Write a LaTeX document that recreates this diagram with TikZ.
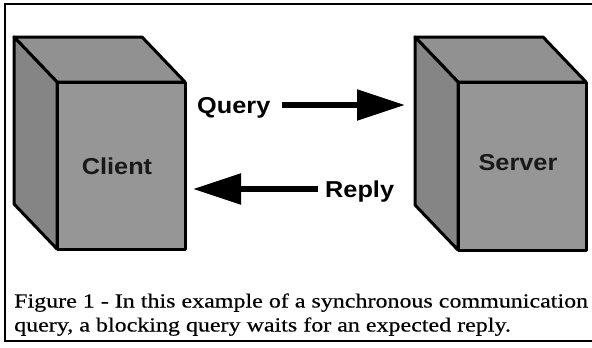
\documentclass[tikz,border=0pt]{standalone}
\usepackage{fontspec}
\setmainfont{Liberation Serif}
\newfontfamily\capfont[FakeStretch=1.2,FakeBold=0.4]{Liberation Serif}
\newfontfamily\lblfont[FakeStretch=1.1]{Liberation Sans}
\usetikzlibrary{arrows.meta}
\definecolor{cubefront}{gray}{0.59}
\definecolor{cubetop}{gray}{0.57}
\definecolor{cubeside}{gray}{0.52}
\tikzset{
  frameline/.style={line width=2pt, line cap=rect},
  cubeedge/.style={draw=black, line width=3pt, line join=round},
  topface/.style={cubeedge, fill=cubetop},
  sideface/.style={cubeedge, fill=cubeside},
  frontface/.style={cubeedge, fill=cubefront},
  cubelabel/.style={font=\lblfont\bfseries\fontsize{23}{23}\selectfont, text=black!90, inner sep=0pt},
  msglabel/.style={font=\lblfont\bfseries\fontsize{23}{23}\selectfont, text=black, inner sep=0pt, anchor=base west},
  bigarrow/.style={line width=5.5pt, -{Triangle[length=48pt,width=30pt]}},
  captext/.style={font=\capfont\fontsize{20}{24}\selectfont, inner sep=0pt, anchor=base west, align=left}
}
\begin{document}
\begin{tikzpicture}[x=1pt,y=-1pt]
\useasboundingbox (0,0) rectangle (592,348);
% frame
\draw[frameline] (593,4) -- (5,4) -- (5,341) -- (593,341);
% client cube
\draw[topface]   (14,37) -- (142,37) -- (185,82) -- (57,82) -- cycle;
\draw[sideface]  (14,37) -- (57,82) -- (57,249) -- (14,204) -- cycle;
\draw[frontface] (57,82) rectangle (185,249);
\node[cubelabel] (client) at (117,166) {Client};
% server cube
\draw[topface]   (415,37) -- (543,37) -- (586,82) -- (458,82) -- cycle;
\draw[sideface]  (415,37) -- (458,82) -- (458,250) -- (415,205) -- cycle;
\draw[frontface] (458,82) rectangle (586,250);
\node[cubelabel] (server) at (518,163) {Server};
% messages
\node[msglabel] (query) at (197,113) {Query};
\node[msglabel] (reply) at (325,197) {Reply};
\coordinate (qstart) at (282,105);
\coordinate (qtip) at (405,105);
\coordinate (rstart) at (318,189);
\coordinate (rtip) at (193,189);
\draw[bigarrow] (qstart) -- (qtip);
\draw[bigarrow] (rstart) -- (rtip);
% caption
\node[captext] (cap1) at (14,307.5) {Figure 1 - In this example of a synchronous communication};
\node[captext] (cap2) at (14,331.5) {query, a blocking query waits for an expected reply.};
\end{tikzpicture}
\end{document}
